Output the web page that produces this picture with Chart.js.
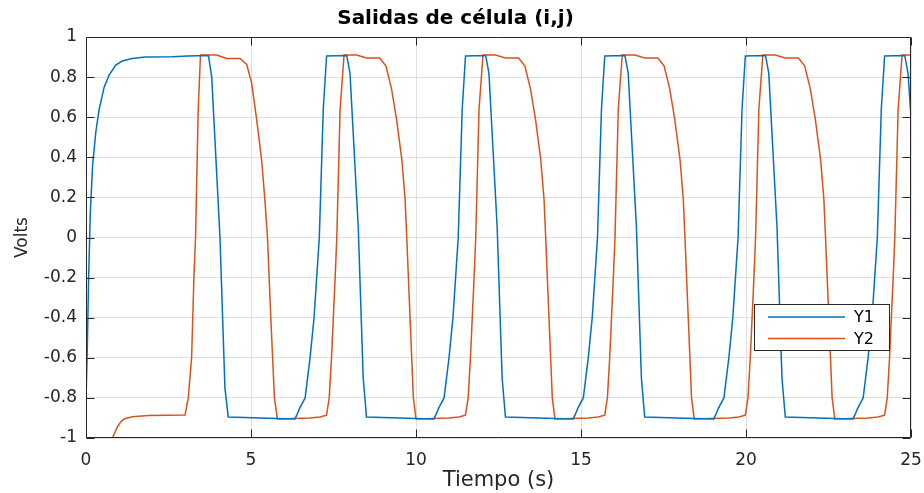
<!DOCTYPE html>
<html>
<head>
<meta charset="utf-8">
<title>Salidas de célula (i,j)</title>
<script src="https://cdn.jsdelivr.net/npm/chart.js@4.4.1/dist/chart.umd.min.js"></script>
<style>
  body { margin: 0; background: #ffffff; }
  #grafica { display: block; }
</style>
</head>
<body>
<canvas id="grafica" width="924" height="493"></canvas>
<script>
// Salida Y1 de la célula (tiempo en s, tensión en V)
const y1Tiempo = [
  0, 0.04, 0.08, 0.13, 0.2, 0.3, 0.4, 0.55, 0.7, 0.9, 1.1, 1.4, 1.8, 2.6,
  3.08, 3.71, 3.81, 4.06, 4.21, 4.31, 5.8,
  6.33, 6.39, 6.48, 6.64, 6.79, 6.91, 6.99, 7.07, 7.19, 7.29, 7.9, 8.0, 8.25, 8.4, 8.5, 10.0,
  10.54, 10.6, 10.69, 10.85, 11.0, 11.12, 11.2, 11.28, 11.4, 11.5, 12.11, 12.21, 12.46, 12.61, 12.71, 14.21,
  14.76, 14.82, 14.91, 15.07, 15.22, 15.34, 15.42, 15.5, 15.62, 15.72, 16.33, 16.43, 16.68, 16.83, 16.93, 18.43,
  19.02, 19.08, 19.17, 19.33, 19.48, 19.6, 19.68, 19.76, 19.88, 19.98, 20.59, 20.69, 20.94, 21.09, 21.19, 22.69,
  23.24, 23.3, 23.39, 23.55, 23.7, 23.82, 23.9, 23.98, 24.1, 24.2, 24.81, 24.91, 25.0
];
const y1Volts = [
  -0.81, -0.55, -0.2, 0.12, 0.36, 0.53, 0.64, 0.75, 0.81, 0.86, 0.88, 0.893, 0.9, 0.902,
  0.905, 0.908, 0.8, 0, -0.75, -0.895, -0.903,
  -0.905, -0.885, -0.85, -0.8, -0.6, -0.4, -0.2, 0, 0.64, 0.905, 0.908, 0.82, 0.05, -0.7, -0.895, -0.903,
  -0.905, -0.885, -0.85, -0.8, -0.6, -0.4, -0.2, 0, 0.64, 0.905, 0.908, 0.82, 0.05, -0.7, -0.895, -0.903,
  -0.905, -0.885, -0.85, -0.8, -0.6, -0.4, -0.2, 0, 0.64, 0.905, 0.908, 0.82, 0.05, -0.7, -0.895, -0.903,
  -0.905, -0.885, -0.85, -0.8, -0.6, -0.4, -0.2, 0, 0.64, 0.905, 0.908, 0.82, 0.05, -0.7, -0.895, -0.903,
  -0.905, -0.885, -0.85, -0.8, -0.6, -0.4, -0.2, 0, 0.64, 0.905, 0.908, 0.82, 0.6
];

// Salida Y2 de la célula
const y2Tiempo = [
  0, 0.8, 0.87, 0.95, 1.05, 1.15, 1.4, 1.9, 3.0,
  3.1, 3.2, 3.27, 3.32, 3.4, 3.47, 3.96, 4.26, 4.67, 4.87, 5.02, 5.17, 5.32, 5.42, 5.5, 5.6, 5.71, 5.8,
  6.79, 7.09, 7.29, 7.37, 7.44, 7.55, 7.6, 7.7, 7.82, 8.2, 8.5, 8.9, 9.09, 9.26, 9.41, 9.57, 9.67, 9.72, 9.82, 9.92, 10.0,
  11.0, 11.3, 11.5, 11.58, 11.65, 11.76, 11.81, 11.91, 12.03, 12.41, 12.71, 13.11, 13.3, 13.47, 13.62, 13.78, 13.88, 13.93, 14.03, 14.13, 14.21,
  15.22, 15.52, 15.72, 15.8, 15.87, 15.98, 16.03, 16.13, 16.25, 16.63, 16.93, 17.33, 17.52, 17.69, 17.84, 18.0, 18.1, 18.15, 18.25, 18.35, 18.43,
  19.48, 19.78, 19.98, 20.06, 20.13, 20.24, 20.29, 20.39, 20.51, 20.89, 21.19, 21.59, 21.78, 21.95, 22.1, 22.26, 22.36, 22.41, 22.51, 22.61, 22.69,
  23.7, 24.0, 24.2, 24.28, 24.35, 24.46, 24.51, 24.61, 24.73, 25.0
];
const y2Volts = [
  -1, -1, -0.975, -0.945, -0.92, -0.905, -0.894, -0.888, -0.885,
  -0.8, -0.6, -0.2, 0, 0.64, 0.91, 0.91, 0.893, 0.893, 0.863, 0.77, 0.59, 0.39, 0.19, 0, -0.4, -0.8, -0.905,
  -0.9, -0.895, -0.886, -0.8, -0.6, -0.2, 0, 0.64, 0.91, 0.91, 0.895, 0.895, 0.855, 0.74, 0.59, 0.39, 0.19, 0, -0.4, -0.8, -0.905,
  -0.9, -0.895, -0.886, -0.8, -0.6, -0.2, 0, 0.64, 0.91, 0.91, 0.895, 0.895, 0.855, 0.74, 0.59, 0.39, 0.19, 0, -0.4, -0.8, -0.905,
  -0.9, -0.895, -0.886, -0.8, -0.6, -0.2, 0, 0.64, 0.91, 0.91, 0.895, 0.895, 0.855, 0.74, 0.59, 0.39, 0.19, 0, -0.4, -0.8, -0.905,
  -0.9, -0.895, -0.886, -0.8, -0.6, -0.2, 0, 0.64, 0.91, 0.91, 0.895, 0.895, 0.855, 0.74, 0.59, 0.39, 0.19, 0, -0.4, -0.8, -0.905,
  -0.9, -0.895, -0.886, -0.8, -0.6, -0.2, 0, 0.64, 0.91, 0.91
];

const xTicks = [0, 5, 10, 15, 20, 25];
const yTicks = [-1, -0.8, -0.6, -0.4, -0.2, 0, 0.2, 0.4, 0.6, 0.8, 1];

const tinta = "#262626";
const fuente = "'DejaVu Sans', sans-serif";

function puntos(tiempos, volts) {
  return tiempos.map((t, i) => ({ x: t, y: volts[i] }));
}

// caja de los ejes con marcas hacia dentro en los cuatro lados
const marcoEjes = {
  id: "marcoEjes",
  afterDatasetsDraw(chart) {
    const { ctx, chartArea: a, scales } = chart;
    const largo = 8;
    const izq = Math.round(a.left) + 0.5;
    const der = Math.round(a.right) - 0.5;
    const arr = Math.round(a.top) + 0.5;
    const abj = Math.round(a.bottom) - 0.5;
    ctx.save();
    ctx.strokeStyle = tinta;
    ctx.lineWidth = 1;
    ctx.beginPath();
    xTicks.forEach(function (v) {
      const px = Math.round(scales.x.getPixelForValue(v)) + 0.5;
      ctx.moveTo(px, abj); ctx.lineTo(px, abj - largo);
      ctx.moveTo(px, arr); ctx.lineTo(px, arr + largo);
    });
    yTicks.forEach(function (v) {
      const py = Math.round(scales.y.getPixelForValue(v)) + 0.5;
      ctx.moveTo(izq, py); ctx.lineTo(izq + largo, py);
      ctx.moveTo(der, py); ctx.lineTo(der - largo, py);
    });
    ctx.rect(izq, arr, der - izq, abj - arr);
    ctx.stroke();
    ctx.restore();
  }
};

// leyenda en recuadro, abajo a la derecha dentro de los ejes
const leyendaCaja = {
  id: "leyendaCaja",
  afterDraw(chart) {
    const ctx = chart.ctx;
    const x0 = 754.5, y0 = 304.5, ancho = 135, alto = 46;
    ctx.save();
    ctx.fillStyle = "#ffffff";
    ctx.fillRect(x0, y0, ancho, alto);
    ctx.strokeStyle = tinta;
    ctx.lineWidth = 1;
    ctx.strokeRect(x0, y0, ancho, alto);
    ctx.font = "16px " + fuente;
    ctx.textBaseline = "middle";
    chart.data.datasets.forEach(function (ds, i) {
      const y = y0 + 12.5 + i * 21.5;
      ctx.strokeStyle = ds.borderColor;
      ctx.lineWidth = 1.5;
      ctx.beginPath();
      ctx.moveTo(768, y);
      ctx.lineTo(845, y);
      ctx.stroke();
      ctx.fillStyle = "#000000";
      ctx.fillText(ds.label, 854, y + 1);
    });
    ctx.restore();
  }
};

new Chart(document.getElementById("grafica").getContext("2d"), {
  type: "line",
  data: {
    datasets: [
      {
        label: "Y1",
        data: puntos(y1Tiempo, y1Volts),
        borderColor: "#0072BD",
        borderWidth: 1.5,
        pointRadius: 0,
        tension: 0,
        fill: false
      },
      {
        label: "Y2",
        data: puntos(y2Tiempo, y2Volts),
        borderColor: "#D95319",
        borderWidth: 1.5,
        pointRadius: 0,
        tension: 0,
        fill: false
      }
    ]
  },
  options: {
    responsive: false,
    animation: false,
    layout: { padding: { left: 0, right: 13, top: 0, bottom: 0 } },
    plugins: {
      legend: { display: false },
      tooltip: { enabled: false },
      title: {
        display: true,
        text: "Salidas de célula (i,j)",
        color: "#000000",
        font: { family: fuente, size: 20, weight: "bold", lineHeight: "19px" },
        padding: { top: 9, bottom: 9 }
      }
    },
    scales: {
      x: {
        type: "linear",
        min: 0,
        max: 25,
        afterBuildTicks: function (scale) {
          scale.ticks = xTicks.map(v => ({ value: v }));
        },
        afterFit: function (scale) {
          scale.height = 55;
          scale.paddingLeft = 0;
          scale.paddingRight = 0;
        },
        grid: { color: "#dfdfdf", drawTicks: false },
        border: { display: false },
        ticks: {
          color: tinta,
          font: { family: fuente, size: 17 },
          padding: 12,
          maxRotation: 0,
          callback: v => String(v)
        },
        title: {
          display: true,
          text: "Tiempo (s)",
          color: tinta,
          font: { family: fuente, size: 21, lineHeight: 1.2 },
          padding: { top: 0, bottom: 0 }
        }
      },
      y: {
        type: "linear",
        min: -1,
        max: 1,
        afterBuildTicks: function (scale) {
          scale.ticks = yTicks.map(v => ({ value: v }));
        },
        afterFit: function (scale) {
          scale.width = 86;
          scale.paddingTop = 0;
          scale.paddingBottom = 0;
        },
        grid: { color: "#dfdfdf", drawTicks: false },
        border: { display: false },
        ticks: {
          color: tinta,
          font: { family: fuente, size: 17 },
          padding: 9,
          callback: v => String(v)
        },
        title: {
          display: true,
          text: "Volts",
          color: tinta,
          font: { family: fuente, size: 17, lineHeight: 1.2 },
          padding: { top: 12, bottom: 0 }
        }
      }
    }
  },
  plugins: [marcoEjes, leyendaCaja]
});
</script>
</body>
</html>
